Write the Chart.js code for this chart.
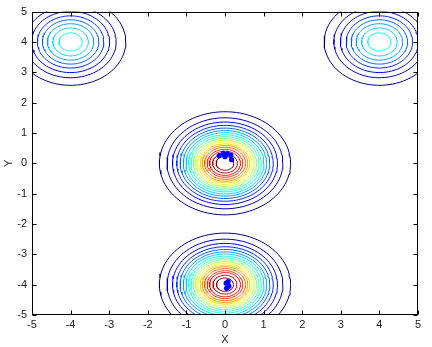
<!DOCTYPE html>
<html><head><meta charset="utf-8">
<script src="https://cdn.jsdelivr.net/npm/chart.js@4/dist/chart.umd.min.js"></script>
<style>html,body{margin:0;padding:0;background:#fff}canvas{display:block}</style>
</head><body>
<canvas id="c" width="432" height="347"></canvas>
<script>
// ---- data ----
const xTicks = [-5, -4, -3, -2, -1, 0, 1, 2, 3, 4, 5];
const yTicks = [-5, -4, -3, -2, -1, 0, 1, 2, 3, 4, 5];
const levels = [0.05, 0.10, 0.15, 0.20, 0.25, 0.30, 0.35, 0.40, 0.45, 0.50,
                0.55, 0.60, 0.65, 0.70, 0.75, 0.80, 0.85, 0.90, 0.95];
const bumpNames = ['centre', 'bottom', 'topLeft', 'topRight'];
const bumpX = [0, 0, -4, 4];
const bumpY = [0, -4, 4, 4];
// contour radius (data units) of each level around each bump
const radiiCentre   = [1.70, 1.50, 1.36, 1.25, 1.16, 1.08, 1.01, 0.94, 0.88, 0.82,
                       0.76, 0.70, 0.64, 0.59, 0.53, 0.46, 0.40, 0.32, 0.23];
const radiiBottom   = [1.70, 1.50, 1.36, 1.25, 1.16, 1.08, 1.01, 0.94, 0.88, 0.82,
                       0.76, 0.70, 0.64, 0.59, 0.53, 0.46, 0.40, 0.31, 0.22];
const radiiTopLeft  = [1.43, 1.18, 1.01, 0.86, 0.73, 0.60, 0.46, 0.30];
const radiiTopRight = [1.43, 1.18, 1.01, 0.86, 0.73, 0.60, 0.46, 0.30];
const bumpRadii = [radiiCentre, radiiBottom, radiiTopLeft, radiiTopRight];
// sample points (blue dots)
const dotsX = [-0.15, -0.05, 0.06, 0.15, 0.17, 0.00, 0.03, 0.08, 0.10, 0.04];
const dotsY = [ 0.25,  0.33, 0.32, 0.27, 0.12, 0.22, -3.95, -3.90, -4.05, -4.12];

// ---- styling helpers ----
function clamp(v) { return Math.max(0, Math.min(1, v)); }
function jet(v) {
  const r = clamp(1.5 - Math.abs(4 * v - 3));
  const g = clamp(1.5 - Math.abs(4 * v - 2));
  const b = clamp(1.5 - Math.abs(4 * v - 1));
  return `rgb(${Math.round(r * 255)},${Math.round(g * 255)},${Math.round(b * 255)})`;
}
const lmin = levels[0], lmax = levels[levels.length - 1];
const SEG = 90;

const datasets = [];
datasets.push({
  label: 'points',
  type: 'scatter',
  data: dotsX.map((x, i) => ({ x, y: dotsY[i] })),
  showLine: false,
  pointRadius: 2.6,
  pointHoverRadius: 0,
  pointBackgroundColor: '#0000ff',
  pointBorderColor: '#0000ff',
  pointBorderWidth: 0,
  order: 0,
  clip: 0
});
bumpRadii.forEach((radii, b) => {
  radii.forEach((r, k) => {
    const pts = [];
    for (let i = 0; i <= SEG; i++) {
      const t = (i / SEG) * Math.PI * 2;
      pts.push({ x: bumpX[b] + r * Math.cos(t), y: bumpY[b] + r * Math.sin(t) });
    }
    datasets.push({
      label: bumpNames[b] + ' ' + levels[k],
      data: pts,
      showLine: true,
      borderColor: jet((levels[k] - lmin) / (lmax - lmin)),
      borderWidth: 1,
      pointRadius: 0,
      pointHoverRadius: 0,
      tension: 0,
      fill: false,
      order: 1,
      clip: 0
    });
  });
});

const FONT = { family: "'Liberation Sans', Arial, sans-serif", size: 11 };

const boxTicks = {
  id: 'boxTicks',
  afterDatasetsDraw(chart) {
    const { ctx, chartArea: a, scales } = chart;
    ctx.save();
    ctx.strokeStyle = '#000';
    ctx.lineWidth = 1;
    ctx.beginPath();
    const L = Math.round(a.left) + 0.5, R = Math.round(a.right) - 0.5;
    const T = Math.round(a.top) + 0.5, B = Math.round(a.bottom) - 0.5;
    const len = 4;
    xTicks.forEach(v => {
      const px = Math.round(scales.x.getPixelForValue(v)) + 0.5;
      ctx.moveTo(px, B); ctx.lineTo(px, B - len);
      ctx.moveTo(px, T); ctx.lineTo(px, T + len);
    });
    yTicks.forEach(v => {
      const py = Math.round(scales.y.getPixelForValue(v)) + 0.5;
      ctx.moveTo(L, py); ctx.lineTo(L + len, py);
      ctx.moveTo(R, py); ctx.lineTo(R - len, py);
    });
    ctx.stroke();
    ctx.strokeRect(L, T, R - L, B - T);
    ctx.restore();
  }
};

new Chart(document.getElementById('c'), {
  type: 'scatter',
  data: { datasets },
  options: {
    responsive: false,
    animation: false,
    events: [],
    layout: { padding: { top: 8, right: 14, left: 0, bottom: 0 } },
    plugins: { legend: { display: false }, tooltip: { enabled: false } },
    scales: {
      x: {
        type: 'linear', min: -5, max: 5,
        afterBuildTicks: s => { s.ticks = xTicks.map(v => ({ value: v })); },
        afterFit: s => { s.height = 32; },
        ticks: { font: FONT, color: '#222', padding: 3, maxRotation: 0, autoSkip: false },
        grid: { display: false, drawTicks: false },
        border: { display: false },
        title: { display: true, text: 'X', font: FONT, color: '#222', padding: { top: 0, bottom: 0 } }
      },
      y: {
        type: 'linear', min: -5, max: 5,
        afterBuildTicks: s => { s.ticks = yTicks.map(v => ({ value: v })); },
        afterFit: s => { s.width = 32; },
        ticks: { font: FONT, color: '#222', padding: 5, autoSkip: false },
        grid: { display: false, drawTicks: false },
        border: { display: false },
        title: { display: true, text: 'Y', font: FONT, color: '#222', padding: { top: 2, bottom: 0 } }
      }
    }
  },
  plugins: [boxTicks]
});
</script>
</body></html>
